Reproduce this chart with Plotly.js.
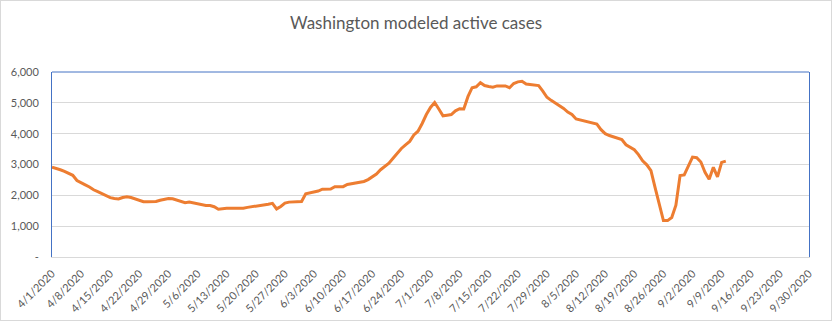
<!DOCTYPE html>
<html>
<head>
<meta charset="utf-8">
<script src="https://cdn.plot.ly/plotly-3.0.1.min.js"></script>
<style>
  html, body { margin: 0; padding: 0; background: #fff; }
  #frame { width: 832px; height: 321px; box-sizing: border-box; border: 1px solid #d9d9d9; overflow: hidden; }
  #chart { width: 830px; height: 319px; }
</style>
</head>
<body>
<div id="frame"><div id="chart"></div></div>
<script>
// Daily modeled active cases, starting 4/1/2020 (one value per day)
const startDate = '2020-04-01';
const activeCases = [
  2910, 2880, 2830, 2780, 2720, 2650, 2480, 2420, 2340, 2270,
  2180, 2120, 2050, 1980, 1925, 1900, 1880, 1930, 1950, 1930,
  1890, 1840, 1795, 1790, 1790, 1800, 1840, 1860, 1900, 1890,
  1850, 1790, 1760, 1780, 1750, 1730, 1710, 1670, 1670, 1630,
  1550, 1570, 1580, 1580, 1580, 1580, 1580, 1610, 1630, 1630,
  1660, 1690, 1710, 1740, 1560, 1640, 1750, 1780, 1790, 1790,
  1800, 2050, 2080, 2100, 2140, 2200, 2205, 2205, 2280, 2280,
  2280, 2350, 2380, 2400, 2420, 2450, 2510, 2590, 2690, 2830,
  2930, 3040, 3200, 3380, 3520, 3640, 3750, 3960, 4080, 4330,
  4620, 4850, 5010, 4800, 4580, 4600, 4620, 4740, 4810, 4800,
  5200, 5490, 5520, 5650, 5560, 5530, 5510, 5550, 5550, 5550,
  5490, 5625, 5680, 5700, 5610, 5595, 5590, 5560, 5380, 5180,
  5080, 4990, 4910, 4820, 4700, 4620, 4475, 4440, 4400, 4370,
  4340, 4310, 4130, 4000, 3940, 3890, 3850, 3810, 3640, 3560,
  3480, 3320, 3120, 2990, 2800, 2250, 1690, 1180, 1180, 1280,
  1680, 2640, 2660, 2950, 3240, 3220, 3080, 2750, 2520, 2910,
  2600, 3070, 3110
];

// X axis ticks (weekly)
const xTickDates = ['2020-04-01','2020-04-08','2020-04-15','2020-04-22','2020-04-29',
  '2020-05-06','2020-05-13','2020-05-20','2020-05-27','2020-06-03','2020-06-10',
  '2020-06-17','2020-06-24','2020-07-01','2020-07-08','2020-07-15','2020-07-22',
  '2020-07-29','2020-08-05','2020-08-12','2020-08-19','2020-08-26','2020-09-02',
  '2020-09-09','2020-09-16','2020-09-23','2020-09-30'];
const xTickLabels = ['4/1/2020','4/8/2020','4/15/2020','4/22/2020','4/29/2020',
  '5/6/2020','5/13/2020','5/20/2020','5/27/2020','6/3/2020','6/10/2020',
  '6/17/2020','6/24/2020','7/1/2020','7/8/2020','7/15/2020','7/22/2020',
  '7/29/2020','8/5/2020','8/12/2020','8/19/2020','8/26/2020','9/2/2020',
  '9/9/2020','9/16/2020','9/23/2020','9/30/2020'];

// Y axis ticks
const yTickVals = [0, 1000, 2000, 3000, 4000, 5000, 6000];
const yTickLabels = ['-', '1,000', '2,000', '3,000', '4,000', '5,000', '6,000'];

const chartTitle = 'Washington modeled active cases';

// Build dates for each daily value
const dates = activeCases.map((_, i) => {
  const d = new Date(startDate + 'T00:00:00Z');
  d.setUTCDate(d.getUTCDate() + i);
  return d.toISOString().slice(0, 10);
});

const trace = {
  x: dates,
  y: activeCases,
  type: 'scatter',
  mode: 'lines',
  line: { color: '#ED7D31', width: 3 },
  hoverinfo: 'x+y'
};

const layout = {
  width: 830,
  height: 319,
  margin: { l: 51, r: 22, t: 71, b: 63 },
  paper_bgcolor: '#ffffff',
  plot_bgcolor: '#ffffff',
  showlegend: false,
  title: {
    text: chartTitle,
    font: { family: 'Lato, "Open Sans", sans-serif', size: 17, color: '#595959' },
    x: 0.5, xanchor: 'center',
    y: 0.93, yanchor: 'middle'
  },
  xaxis: {
    type: 'date',
    range: ['2020-04-01', '2020-09-30'],
    tickmode: 'array',
    tickvals: xTickDates,
    ticktext: xTickLabels,
    tickangle: -45,
    tickfont: { family: 'Lato, "Open Sans", sans-serif', size: 11, color: '#595959' },
    showgrid: false,
    zeroline: false,
    showline: true,
    linecolor: '#d9d9d9',
    linewidth: 1,
    ticks: '',
    ticklabelstandoff: 5,
    fixedrange: true
  },
  yaxis: {
    range: [0, 6000],
    tickmode: 'array',
    tickvals: yTickVals,
    ticktext: yTickLabels,
    tickfont: { family: 'Lato, "Open Sans", sans-serif', size: 11, color: '#595959' },
    showgrid: true,
    gridcolor: '#d9d9d9',
    gridwidth: 1,
    zeroline: false,
    showline: true,
    linecolor: '#4472C4',
    linewidth: 1,
    mirror: true,
    ticks: '',
    ticklabelstandoff: 10,
    fixedrange: true
  },
  shapes: [
    { type: 'line', xref: 'paper', yref: 'paper', x0: 0, x1: 1, y0: 1, y1: 1,
      line: { color: '#4472C4', width: 1 } }
  ]
};

Plotly.newPlot('chart', [trace], layout, { displayModeBar: false, staticPlot: true });
</script>
</body>
</html>
